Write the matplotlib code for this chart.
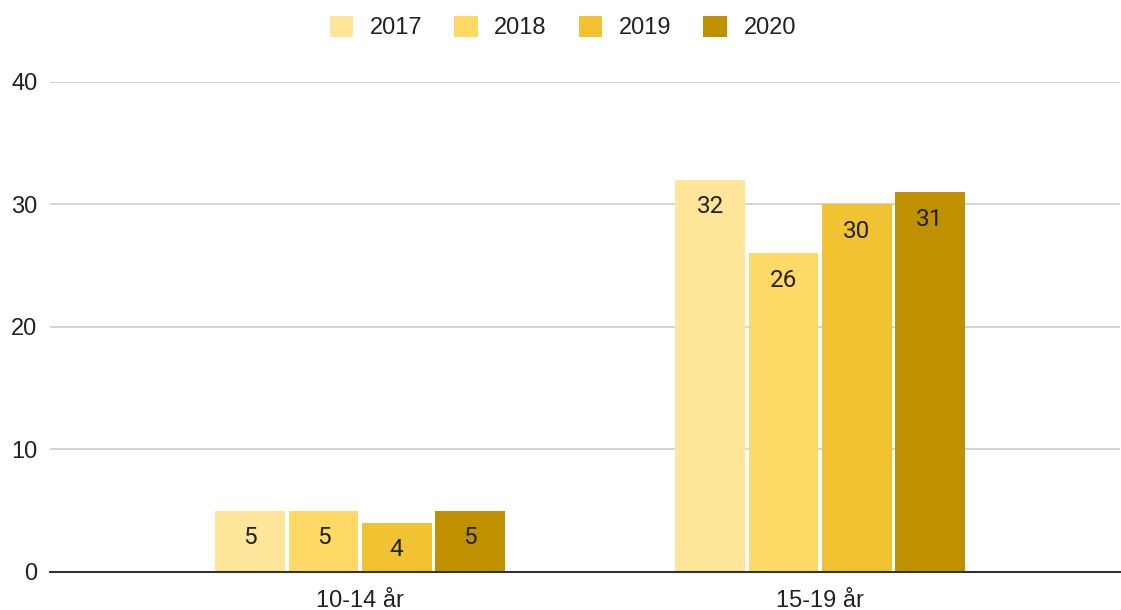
import matplotlib
matplotlib.use("Agg")
import matplotlib.pyplot as plt
import numpy as np

# Data
categories = ["10-14 år", "15-19 år"]
years = ["2017", "2018", "2019", "2020"]
values_2017 = [5, 32]
values_2018 = [5, 26]
values_2019 = [4, 30]
values_2020 = [5, 31]
colors = ["#FFE599", "#FFD966", "#F1C232", "#BF9000"]

series = [values_2017, values_2018, values_2019, values_2020]

plt.rcParams["font.family"] = ["Liberation Sans", "DejaVu Sans"]

fig = plt.figure(figsize=(11.21, 6.10), dpi=100)
ax = fig.add_axes([0.0446, 0.0623, 0.9545, 0.8033])

x = np.arange(len(categories))
slot = 0.159
width = 0.152
for i, (vals, year, color) in enumerate(zip(series, years, colors)):
    pos = x + (i - 1.5) * slot
    bars = ax.bar(pos, vals, width=width, color=color, label=year, zorder=3)
    for rect, v in zip(bars, vals):
        ax.annotate(str(v), (rect.get_x() + rect.get_width() / 2, v),
                    xytext=(0, -11), textcoords="offset points",
                    ha="center", va="top", fontsize=17.5, color="#222222",
                    family=["Roboto", "DejaVu Sans"], zorder=4)

ax.set_xlim(-0.674, 1.652)
ax.set_ylim(0, 40)
ax.set_yticks([0, 10, 20, 30, 40])
ax.set_xticks(x)
ax.set_xticklabels(categories)
ax.tick_params(axis="both", length=0, labelsize=17, colors="#222222")
ax.tick_params(axis="y", pad=9)
ax.tick_params(axis="x", pad=13)
ax.yaxis.grid(True, color="#cccccc", linewidth=1.2, zorder=0)
for s in ["top", "right", "left"]:
    ax.spines[s].set_visible(False)
ax.spines["bottom"].set_color("#333333")
ax.spines["bottom"].set_linewidth(1.5)
ax.spines["bottom"].set_zorder(5)

ax.legend(loc="center", bbox_to_anchor=(0.502, 0.955), bbox_transform=fig.transFigure,
          ncol=4, frameon=False, fontsize=17, handlelength=1.0, handleheight=1.0,
          columnspacing=1.35, handletextpad=0.7, labelcolor="#222222")

fig.savefig("out.png", dpi=100)
